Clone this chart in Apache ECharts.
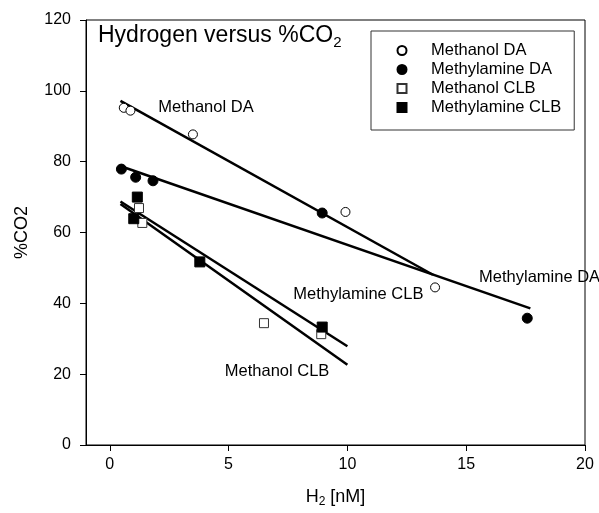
<!DOCTYPE html>
<html>
<head>
<meta charset="utf-8">
<style>
  html, body { margin: 0; padding: 0; background: #fff; }
  #chart { width: 599px; height: 513px; }
</style>
<script src="https://cdn.jsdelivr.net/npm/echarts@6/dist/echarts.min.js"></script>
</head>
<body>
<div id="chart"></div>
<script>
// values
const seriesNames = ['Methanol DA', 'Methylamine DA', 'Methanol CLB', 'Methylamine CLB']
const methanolDA = [[0.59, 95.2], [0.87, 94.4], [3.5, 87.7], [9.92, 65.8], [13.69, 44.5]]
const methylamineDA = [[0.49, 77.9], [1.09, 75.6], [1.82, 74.6], [8.94, 65.5], [17.57, 35.8]]
const methanolCLB = [[1.23, 66.9], [1.37, 62.7], [6.49, 34.4], [8.9, 31.3]]
const methylamineCLB = [[1.16, 70.0], [1.01, 63.9], [3.79, 51.7], [8.94, 33.3]]
// x span over which each regression line is drawn
const fitRanges = [[0.45, 13.6], [0.5, 17.7], [0.45, 10], [0.45, 10]]
// annotation anchors (left edge of text)
const annotations = [
  { value: [2.02, 95.3], name: 'Methanol DA' },
  { value: [15.52, 47.3], name: 'Methylamine DA' },
  { value: [7.7, 42.4], name: 'Methylamine CLB' },
  { value: [4.82, 20.7], name: 'Methanol CLB' }
]
const xTicks = [0, 5, 10, 15, 20]

const FONT = '"Liberation Sans", Arial, sans-serif'
const SQUARE = 'path://M0 0H10V10H0Z'

// least squares fit
const fitLine = (pts, range) => {
  const n = pts.length
  const mx = pts.reduce((s, p) => s + p[0], 0) / n
  const my = pts.reduce((s, p) => s + p[1], 0) / n
  let sxx = 0, sxy = 0
  pts.forEach(p => {
    sxx += (p[0] - mx) * (p[0] - mx)
    sxy += (p[0] - mx) * (p[1] - my)
  })
  const b = sxy / sxx
  const a = my - b * mx
  return range.map(x => [x, a + b * x])
}

const allData = [methanolDA, methylamineDA, methanolCLB, methylamineCLB]
const symbols = [
  { symbol: 'circle', size: 9, fill: '#fff', border: '#000' },
  { symbol: 'circle', size: 10, fill: '#000', border: '#000' },
  { symbol: SQUARE, size: 9, fill: '#fff', border: '#333' },
  { symbol: SQUARE, size: 10, fill: '#000', border: '#000' }
]

const fitSeries = allData.map((d, i) => ({
  name: 'fit' + i,
  type: 'line',
  data: fitLine(d, fitRanges[i]),
  symbol: 'none',
  silent: true,
  lineStyle: { color: '#000', width: 2.5 },
  z: 2
}))

const scatterSeries = allData.map((d, i) => ({
  name: seriesNames[i],
  type: 'scatter',
  data: d,
  symbol: symbols[i].symbol,
  symbolSize: symbols[i].size,
  itemStyle: { color: symbols[i].fill, borderColor: symbols[i].border, borderWidth: 1, opacity: 1 },
  z: 3
}))

const chart = echarts.init(document.getElementById('chart'))

chart.setOption({
  animation: false,
  title: {
    text: '{a|Hydrogen versus %CO}{s|2}',
    left: 98,
    top: 22,
    padding: 0,
    textStyle: {
      fontWeight: 'normal',
      rich: {
        a: { fontFamily: FONT, fontSize: 23, fontWeight: 'normal', lineHeight: 28, color: '#000' },
        s: { fontFamily: FONT, fontSize: 15, fontWeight: 'normal', lineHeight: 12, verticalAlign: 'bottom', color: '#000' }
      }
    }
  },
  legend: {
    data: seriesNames,
    orient: 'vertical',
    left: 371,
    top: 31,
    padding: [10, 13, 13, 25.5],
    itemWidth: 9,
    itemHeight: 9,
    itemGap: 0,
    borderColor: '#333',
    borderWidth: 1,
    textStyle: { fontFamily: FONT, fontSize: 16.5, lineHeight: 19, color: '#000', padding: [0, 0, 0, 19.5] }
  },
  grid: {
    left: 86,
    right: 14,
    top: 20,
    bottom: 65,
    show: true,
    borderColor: '#000',
    borderWidth: 1
  },
  xAxis: {
    type: 'value',
    min: -1,
    max: 20,
    name: '{a|H}{s|2}{a| [nM]}',
    nameLocation: 'middle',
    nameGap: 41,
    nameTextStyle: {
      rich: {
        a: { fontFamily: FONT, fontSize: 18, lineHeight: 22, color: '#000' },
        s: { fontFamily: FONT, fontSize: 12, lineHeight: 10, verticalAlign: 'bottom', color: '#000' }
      }
    },
    axisLine: { onZero: false, lineStyle: { color: '#000', width: 1 } },
    axisTick: { show: true, length: 6, customValues: xTicks, lineStyle: { color: '#000' } },
    axisLabel: { customValues: xTicks, margin: 12, fontFamily: FONT, fontSize: 16, color: '#000' },
    splitLine: { show: false }
  },
  yAxis: {
    type: 'value',
    min: 0,
    max: 120,
    interval: 20,
    name: '%CO2',
    nameLocation: 'middle',
    nameRotate: 90,
    nameGap: 55,
    nameTextStyle: { fontFamily: FONT, fontSize: 18, color: '#000' },
    axisLine: { show: true, onZero: false, lineStyle: { color: '#000', width: 1 } },
    axisTick: { show: true, length: 6, lineStyle: { color: '#000' } },
    axisLabel: { margin: 15, fontFamily: FONT, fontSize: 16, color: '#000' },
    splitLine: { show: false }
  },
  series: [
    ...fitSeries,
    ...scatterSeries,
    {
      name: 'labels',
      type: 'scatter',
      data: annotations,
      symbolSize: 1,
      silent: true,
      itemStyle: { color: 'rgba(0,0,0,0)', opacity: 1 },
      label: {
        show: true,
        position: 'right',
        distance: 0,
        formatter: '{b}',
        fontFamily: FONT,
        fontSize: 16.5,
        color: '#000',
        opacity: 1,
        textBorderWidth: 0
      },
      z: 4
    }
  ]
})
</script>
</body>
</html>
